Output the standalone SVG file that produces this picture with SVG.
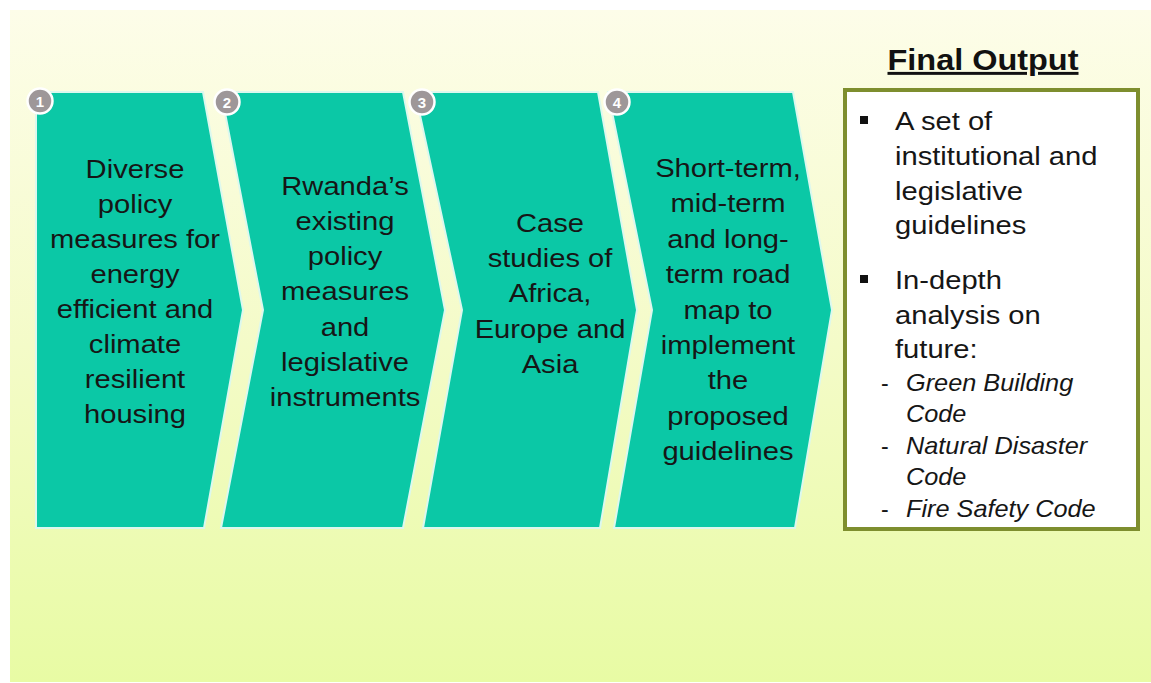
<svg xmlns="http://www.w3.org/2000/svg" width="1151" height="683" viewBox="0 0 1151 683">
<defs>
<linearGradient id="bg" x1="0" y1="0" x2="0" y2="1">
<stop offset="0" stop-color="#fdfde9"/>
<stop offset="0.5" stop-color="#f4fbc8"/>
<stop offset="1" stop-color="#e8fba4"/>
</linearGradient>
</defs>
<style>
.chev{fill:#0bc8a6;stroke:#dcf8ee;stroke-width:2;stroke-linejoin:miter}
.ct{font-family:"Liberation Sans",Arial,sans-serif;font-size:26.5px;fill:#161616;text-anchor:middle}
.badge{fill:#9e9799;stroke:#ffffff;stroke-width:2.5}
.bn{font-family:"Liberation Sans",Arial,sans-serif;font-size:15px;font-weight:bold;fill:#ffffff;text-anchor:middle}
.bt{font-family:"Liberation Sans",Arial,sans-serif;font-size:26.5px;fill:#161616}
.it{font-family:"Liberation Sans",Arial,sans-serif;font-size:23px;font-style:italic;fill:#161616}
.dash{font-family:"Liberation Sans",Arial,sans-serif;font-size:23px;fill:#161616}
</style>
<rect x="0" y="0" width="1151" height="683" fill="#ffffff"/>
<rect x="10" y="10" width="1141" height="672" fill="url(#bg)"/>

<g id="step1">
<polygon class="chev" points="36,92 203,92 243,310 204,528 36,528"/>
<text class="ct" transform="matrix(1.1 0 0 1 135 0)"><tspan x="0" y="178">Diverse</tspan><tspan x="0" y="213">policy</tspan><tspan x="0" y="248">measures for</tspan><tspan x="0" y="283">energy</tspan><tspan x="0" y="318">efficient and</tspan><tspan x="0" y="353">climate</tspan><tspan x="0" y="388">resilient</tspan><tspan x="0" y="423">housing</tspan></text>
<circle class="badge" cx="40" cy="101" r="12.5"/>
<text class="bn" x="40" y="106.5">1</text>
</g>

<g id="step2">
<polygon class="chev" points="221,92 403,92 445,310 403,528 221,528 263,310"/>
<text class="ct" transform="matrix(1.1 0 0 1 345 0)"><tspan x="0" y="195">Rwanda’s</tspan><tspan x="0" y="230">existing</tspan><tspan x="0" y="265">policy</tspan><tspan x="0" y="300">measures</tspan><tspan x="0" y="336">and</tspan><tspan x="0" y="371">legislative</tspan><tspan x="0" y="406">instruments</tspan></text>
<circle class="badge" cx="227" cy="102" r="12.5"/>
<text class="bn" x="227" y="107.5">2</text>
</g>

<g id="step3">
<polygon class="chev" points="415,92 598,92 637,310 600,528 423,528 462,310"/>
<text class="ct" transform="matrix(1.1 0 0 1 550 0)"><tspan x="0" y="232">Case</tspan><tspan x="0" y="267">studies of</tspan><tspan x="0" y="302">Africa,</tspan><tspan x="0" y="338">Europe and</tspan><tspan x="0" y="373">Asia</tspan></text>
<circle class="badge" cx="422" cy="102" r="12.5"/>
<text class="bn" x="422" y="107.5">3</text>
</g>

<g id="step4">
<polygon class="chev" points="608,92 793,92 832,310 795,528 614,528 652,310"/>
<text class="ct" transform="matrix(1.1 0 0 1 728 0)"><tspan x="0" y="177">Short-term,</tspan><tspan x="0" y="212">mid-term</tspan><tspan x="0" y="248">and long-</tspan><tspan x="0" y="283">term road</tspan><tspan x="0" y="319">map to</tspan><tspan x="0" y="354">implement</tspan><tspan x="0" y="389">the</tspan><tspan x="0" y="425">proposed</tspan><tspan x="0" y="460">guidelines</tspan></text>
<circle class="badge" cx="617" cy="102" r="12.5"/>
<text class="bn" x="617" y="107.5">4</text>
</g>

<g id="final-output">
<text transform="matrix(1.1 0 0 1 983 0)" x="0" y="70" font-family="'Liberation Sans',Arial,sans-serif" font-size="29.5" font-weight="bold" fill="#111111" text-anchor="middle" text-decoration="underline">Final Output</text>
<rect x="845" y="90" width="293" height="439" fill="#ffffff" stroke="#7e8e2e" stroke-width="4"/>
<rect x="860" y="116" width="8" height="8" fill="#111111"/>
<text class="bt" transform="matrix(1.1 0 0 1 895 0)"><tspan x="0" y="130">A set of</tspan><tspan x="0" y="165">institutional and</tspan><tspan x="0" y="200">legislative</tspan><tspan x="0" y="234">guidelines</tspan></text>
<rect x="860" y="275" width="8" height="8" fill="#111111"/>
<text class="bt" transform="matrix(1.1 0 0 1 895 0)"><tspan x="0" y="289">In-depth</tspan><tspan x="0" y="324">analysis on</tspan><tspan x="0" y="358">future:</tspan></text>
<text class="dash" x="881" y="391">-</text>
<text class="dash" x="881" y="454">-</text>
<text class="dash" x="881" y="517">-</text>
<text class="it" transform="matrix(1.1 0 0 1 906 0)"><tspan x="0" y="391">Green Building</tspan><tspan x="0" y="422">Code</tspan><tspan x="0" y="454">Natural Disaster</tspan><tspan x="0" y="485">Code</tspan><tspan x="0" y="517">Fire Safety Code</tspan></text>
</g>

<g id="connectors"></g>
</svg>
